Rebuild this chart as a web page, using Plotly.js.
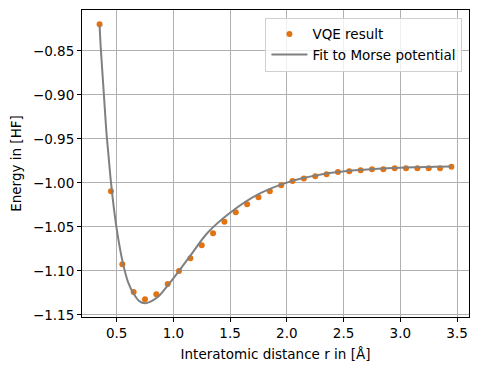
<!DOCTYPE html>
<html>
<head>
<meta charset="utf-8">
<script src="https://cdn.plot.ly/plotly-3.0.1.min.js"></script>
<style>html,body{margin:0;padding:0;background:#fff;}#chart{width:479px;height:372px;}</style>
</head>
<body>
<div id="chart"></div>
<script>
// VQE energies at interatomic distances
const vqeR = [0.35,0.45,0.55,0.65,0.75,0.85,0.95,1.05,1.15,1.25,1.35,1.45,1.55,1.65,1.75,1.85,1.95,2.05,2.15,2.25,2.35,2.45,2.55,2.65,2.75,2.85,2.95,3.05,3.15,3.25,3.35,3.45];
const vqeE = [-0.8197,-1.0095,-1.0924,-1.1242,-1.1322,-1.1265,-1.1151,-1.1003,-1.0856,-1.0708,-1.0572,-1.0443,-1.0333,-1.0242,-1.0163,-1.0095,-1.0026,-0.9980,-0.9951,-0.9924,-0.9901,-0.9878,-0.9867,-0.9856,-0.9844,-0.9844,-0.9833,-0.9833,-0.9833,-0.9833,-0.9833,-0.9818];

// Fitted Morse curve
const fitR = [0.35,0.36,0.375,0.39,0.41,0.43,0.45,0.48,0.51,0.55,0.60,0.65,0.70,0.75,0.80,0.87,0.95,1.05,1.15,1.30,1.50,1.75,2.00,2.30,2.60,3.00,3.45];
const fitE = [-0.821,-0.846,-0.875,-0.904,-0.942,-0.971,-0.999,-1.033,-1.060,-1.088,-1.1125,-1.126,-1.1345,-1.137,-1.135,-1.129,-1.1167,-1.100,-1.0828,-1.057,-1.034,-1.0129,-0.9997,-0.9906,-0.9858,-0.9828,-0.9815];

const xTicks = [0.5,1.0,1.5,2.0,2.5,3.0,3.5];
const yTicks = [-0.85,-0.90,-0.95,-1.00,-1.05,-1.10,-1.15];
const yTickText = ['−0.85','−0.90','−0.95','−1.00','−1.05','−1.10','−1.15'];

const font = {family: 'DejaVu Sans, sans-serif', size: 13.5, color: '#000'};

const traces = [
  {x: vqeR, y: vqeE, mode: 'markers', type: 'scatter', name: 'VQE result',
   marker: {color: '#e37210', size: 6}},
  {x: fitR, y: fitE, mode: 'lines', type: 'scatter', name: 'Fit to Morse potential',
   line: {color: '#808080', width: 2, shape: 'spline', smoothing: 1}}
];

const axisCommon = {
  showline: true, linecolor: '#000', linewidth: 1, mirror: true,
  ticks: 'outside', ticklen: 4, tickcolor: '#000', tickwidth: 1,
  showgrid: true, gridcolor: '#b0b0b0', gridwidth: 1, zeroline: false,
  tickfont: font
};

const layout = {
  width: 479, height: 372,
  margin: {l: 82, r: 10, t: 10, b: 55},
  paper_bgcolor: '#fff', plot_bgcolor: '#fff',
  font: font,
  showlegend: true,
  legend: {x: 0.983, y: 0.975, xanchor: 'right', yanchor: 'top',
           bgcolor: 'rgba(255,255,255,0.8)', bordercolor: '#d0d0d0', borderwidth: 1,
           font: font, tracegroupgap: 0, itemwidth: 36},
  xaxis: Object.assign({}, axisCommon, {
    range: [0.195, 3.605], tickvals: xTicks, ticktext: xTicks.map(v => v.toFixed(1)),
    title: {text: 'Interatomic distance r in [Å]', font: font, standoff: 9}
  }),
  yaxis: Object.assign({}, axisCommon, {
    range: [-1.1525, -0.8035], tickvals: yTicks, ticktext: yTickText,
    title: {text: 'Energy in [HF]', font: font, standoff: 8}
  })
};

Plotly.newPlot('chart', traces, layout, {displayModeBar: false, staticPlot: true});
</script>
</body>
</html>
